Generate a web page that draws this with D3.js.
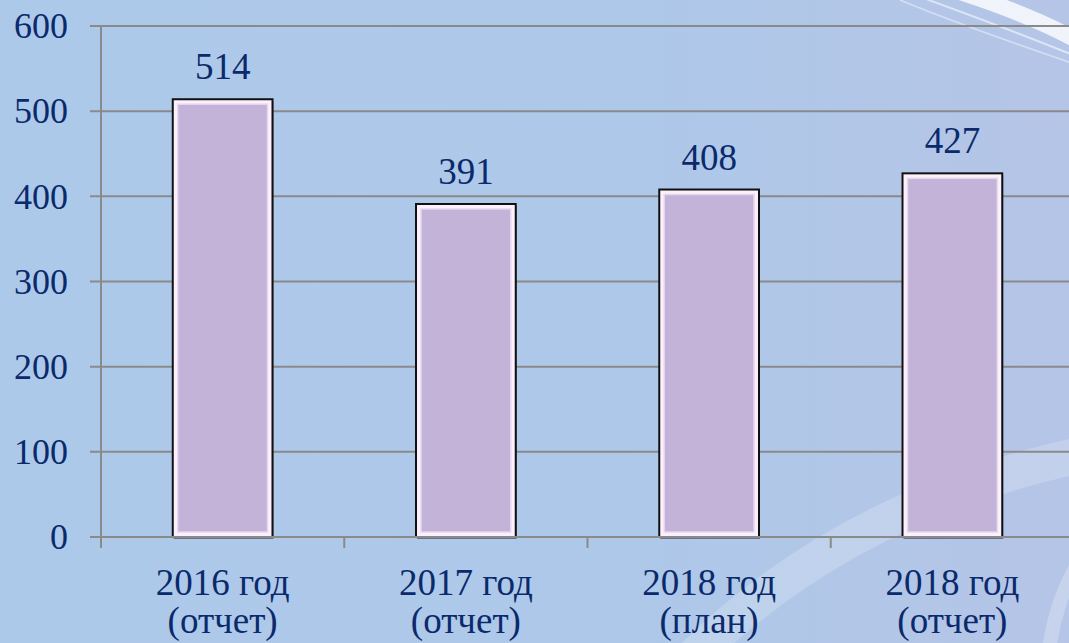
<!DOCTYPE html>
<html>
<head>
<meta charset="utf-8">
<script src="https://cdn.jsdelivr.net/npm/d3@7"></script>
</head>
<body style="margin:0; overflow:hidden">
<svg id="chart" width="1069" height="643" style="display:block; font-family: 'Liberation Serif', Tinos, serif"></svg>
<script>
// data
const categories = ["2016 год|(отчет)", "2017 год|(отчет)", "2018 год|(план)", "2018 год|(отчет)"];
const values = [514, 391, 408, 427];
const yTicks = [0, 100, 200, 300, 400, 500, 600];

const width = 1069, height = 643;
const fontFam = "\"Liberation Serif\", Tinos, serif";
const textColor = "#0b2a6b";

const svg = d3.select("#chart");

// background
const defs = svg.append("defs");
const bg = defs.append("linearGradient").attr("id", "bg")
    .attr("x1", "0").attr("y1", "0").attr("x2", "1").attr("y2", "0");
bg.append("stop").attr("offset", "0").attr("stop-color", "#adc9ea");
bg.append("stop").attr("offset", "0.6").attr("stop-color", "#aec8e9");
bg.append("stop").attr("offset", "1").attr("stop-color", "#b5c5e7");
svg.append("rect").attr("width", width).attr("height", height).attr("fill", "url(#bg)");

// decorative swooshes
const deco = svg.append("g").attr("fill", "none").attr("stroke", "#fff");
deco.append("path").attr("d", "M960,-8 C1000,5 1040,20 1080,42")
    .attr("stroke-width", 16).attr("opacity", 0.8);
deco.append("path").attr("d", "M915,-5 C970,15 1025,35 1080,58")
    .attr("stroke-width", 2).attr("opacity", 0.55);
deco.append("path").attr("d", "M900,0 C960,25 1020,45 1080,66")
    .attr("stroke-width", 1.5).attr("opacity", 0.45);
deco.append("path").attr("d", "M690,660 C790,560 920,490 1080,455")
    .attr("stroke-width", 36).attr("opacity", 0.2);
deco.append("path").attr("d", "M1048,660 C1052,620 1062,590 1080,560")
    .attr("stroke-width", 14).attr("opacity", 0.25);

// scales
const y = d3.scaleLinear().domain([0, 600]).range([537, 26]);
const x = d3.scaleBand().domain(categories).range([101, 1074]).padding(0);
const barW = x.bandwidth() * 0.41;

// gridlines
svg.append("g").selectAll("line")
    .data(yTicks.filter(d => d > 0))
    .enter().append("line")
    .attr("x1", 90).attr("x2", width)
    .attr("y1", d => y(d)).attr("y2", d => y(d))
    .attr("stroke", "#8a8a8a").attr("stroke-width", 2);

// bars
const bars = svg.append("g").selectAll("g")
    .data(values)
    .enter().append("g");

bars.append("rect")
    .attr("x", (d, i) => x(categories[i]) + (x.bandwidth() - barW) / 2 + 1)
    .attr("y", d => y(d) + 2)
    .attr("width", barW).attr("height", d => y(0) - y(d))
    .attr("fill", "#3a3a4a").attr("opacity", 0.6);

bars.append("rect")
    .attr("x", (d, i) => x(categories[i]) + (x.bandwidth() - barW) / 2)
    .attr("y", d => y(d))
    .attr("width", barW).attr("height", d => y(0) - y(d))
    .attr("fill", "#fcf0fc").attr("stroke", "#111").attr("stroke-width", 2);

bars.append("rect")
    .attr("x", (d, i) => x(categories[i]) + (x.bandwidth() - barW) / 2 + 5)
    .attr("y", d => y(d) + 5)
    .attr("width", barW - 10).attr("height", d => y(0) - y(d) - 10)
    .attr("fill", "#c3b3d8").attr("stroke", "#e6d6ee").attr("stroke-width", 1.5);

// value labels
svg.append("g").selectAll("text")
    .data(values)
    .enter().append("text")
    .attr("x", (d, i) => x(categories[i]) + x.bandwidth() / 2)
    .attr("y", d => y(d) - 20)
    .attr("text-anchor", "middle")
    .style("font-family", fontFam).style("font-size", "37px").style("fill", textColor)
    .text(d => d);

// axes
svg.append("line")
    .attr("x1", 101).attr("x2", 101).attr("y1", y(600)).attr("y2", y(0))
    .attr("stroke", "#8a8a8a").attr("stroke-width", 2);
svg.append("line")
    .attr("x1", 90).attr("x2", width).attr("y1", y(0)).attr("y2", y(0))
    .attr("stroke", "#8a8a8a").attr("stroke-width", 2);

svg.append("g").selectAll("line")
    .data(categories.concat(["end"]))
    .enter().append("line")
    .attr("x1", (d, i) => 101 + i * x.step()).attr("x2", (d, i) => 101 + i * x.step())
    .attr("y1", y(0)).attr("y2", y(0) + 11)
    .attr("stroke", "#8a8a8a").attr("stroke-width", 2);

svg.append("g").selectAll("text")
    .data(yTicks)
    .enter().append("text")
    .attr("x", 68).attr("y", d => y(d))
    .attr("dy", "0.34em")
    .attr("text-anchor", "end")
    .style("font-family", fontFam).style("font-size", "36px").style("fill", textColor)
    .text(d => d);

const xl = svg.append("g").selectAll("text")
    .data(categories)
    .enter().append("text")
    .attr("text-anchor", "middle")
    .style("font-family", fontFam).style("font-size", "37px").style("fill", textColor);
xl.each(function (d) {
    const parts = d.split("|");
    const cx = x(d) + x.bandwidth() / 2;
    d3.select(this).selectAll("tspan")
        .data(parts).enter().append("tspan")
        .attr("x", cx)
        .attr("y", (p, j) => 595 + j * 38)
        .text(p => p);
});
</script>
</body>
</html>
